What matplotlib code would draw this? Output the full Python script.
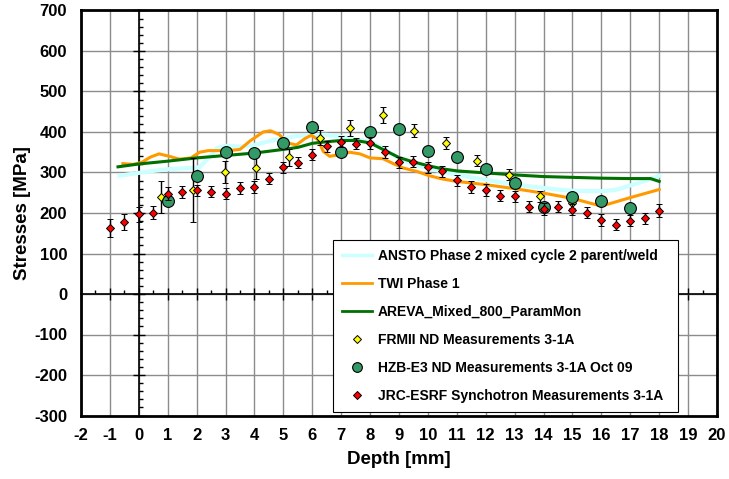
import matplotlib
matplotlib.use("Agg")
import matplotlib.pyplot as plt
from matplotlib.lines import Line2D
from matplotlib.ticker import MultipleLocator

plt.rcParams['font.family'] = ['Liberation Sans', 'DejaVu Sans']
plt.rcParams['font.weight'] = 'bold'
plt.rcParams['axes.unicode_minus'] = False

# --- model curves ---
ansto_x = [-0.67, 0, 0.5, 1, 1.5, 2.1, 2.4, 2.7, 3.0, 3.5, 4.0, 4.5, 5.0, 5.5, 6.0, 6.5,
           7.0, 7.5, 8.0, 8.5, 9.0, 9.5, 10, 10.5, 11, 11.5, 12, 12.5, 13, 13.5, 14,
           14.5, 15, 15.5, 16, 16.5, 17, 17.5, 18]
ansto_y = [292, 299, 304, 308, 310, 313, 335, 360, 366, 364, 368, 377, 385, 390, 393, 393,
           388, 381, 377, 358, 335, 320, 311, 302, 295, 288, 282, 276, 270, 266, 262,
           258, 255, 254, 254, 257, 268, 279, 292]

twi_x = [-0.55, -0.2, 0.1, 0.4, 0.7, 1.0, 1.4, 1.8, 2.1, 2.4, 2.8, 3.1, 3.5, 3.85, 4.3,
         4.55, 4.85, 5.15, 5.45, 5.75, 5.97, 6.2, 6.38, 6.6, 6.95, 7.3, 7.65, 8.0, 8.45,
         8.8, 9.15, 9.6, 10.05, 10.5, 11.0, 12.0, 13.0, 14.0, 15.0, 16.0, 17.0, 18.0]
twi_y = [322, 320, 325, 338, 346, 341, 333, 336, 350, 354, 354, 354, 357, 378, 400,
         403, 394, 373, 368, 384, 392, 381, 352, 340, 344, 350, 346, 336, 334,
         322, 311, 303, 292, 284, 278, 270, 260, 249, 236, 217, 238, 258]

areva_x = [-0.72, 0, 1, 2, 3, 4, 5, 5.5, 6, 6.5, 7, 7.5, 8, 8.5, 9, 9.5, 10, 10.5, 11,
           12, 13, 14, 15, 16, 17, 17.7, 18]
areva_y = [314, 321, 328, 336, 342, 348, 357, 362, 372, 376, 379, 379, 373, 355, 337, 326,
           317, 309, 304, 299, 294, 290, 288, 286, 285, 285, 278]

# --- measurements ---
frm_x = [0.78, 1.87, 2.98, 4.06, 5.18, 6.25, 7.32, 8.43, 9.53, 10.62, 11.7, 12.8, 13.87, 14.97]
frm_y = [240, 257, 301, 312, 338, 386, 409, 442, 403, 373, 329, 295, 241, 225]
frm_err = [39, 78, 27, 28, 21, 18, 20, 20, 16, 14, 14, 13, 14, 12]

hzb_x = [1, 2, 3, 4, 5, 6, 7, 8, 9, 10, 11, 12, 13, 14, 15, 16, 17]
hzb_y = [229, 291, 351, 348, 374, 412, 350, 401, 408, 352, 338, 309, 273, 216, 240, 229, 213]
hzb_err = [10] * 17

jrc_x = [-1, -0.5, 0, 0.5, 1, 1.5, 2, 2.5, 3, 3.5, 4, 4.5, 5, 5.5, 6, 6.5, 7, 7.5, 8,
         8.5, 9, 9.5, 10, 10.5, 11, 11.5, 12, 12.5, 13, 13.5, 14, 14.5, 15, 15.5, 16,
         16.5, 17, 17.5, 18]
jrc_y = [163, 178, 197, 201, 248, 252, 256, 253, 248, 262, 264, 285, 313, 324, 344, 365,
         376, 371, 373, 351, 325, 327, 313, 303, 281, 264, 257, 243, 241, 216, 210, 216,
         208, 201, 183, 171, 181, 187, 206]
jrc_err = [22, 20, 18, 17, 15, 14, 14, 14, 14, 14, 14, 14, 14, 14, 14, 14, 14, 14, 14,
           14, 14, 14, 14, 14, 14, 14, 14, 14, 14, 14, 14, 14, 14, 14, 14, 14, 14, 14, 15]

labels = ["ANSTO Phase 2 mixed cycle 2 parent/weld", "TWI Phase 1",
          "AREVA_Mixed_800_ParamMon", "FRMII ND Measurements 3-1A",
          "HZB-E3 ND Measurements 3-1A Oct 09", "JRC-ESRF Synchotron Measurements 3-1A"]

fig = plt.figure(figsize=(7.29, 4.79), dpi=100)
rect = [81 / 729, 1 - 415.5 / 479, 636 / 729, 405 / 479]

# back axes: grid and the axes crossing at zero
ax = fig.add_axes(rect)
ax.set_xlim(-2, 20)
ax.set_ylim(-300, 700)
ax.set_xticks(range(-2, 21))
ax.set_yticks(range(-300, 701, 100))
ax.xaxis.set_minor_locator(MultipleLocator(0.5))
ax.yaxis.set_minor_locator(MultipleLocator(20))
ax.grid(True, which='major', color='#8c8c8c', lw=1)
for s in ['top', 'right']:
    ax.spines[s].set_visible(False)
ax.spines['left'].set_position(('data', 0))
ax.spines['bottom'].set_position(('data', 0))
ax.spines['left'].set_linewidth(1.2)
ax.spines['bottom'].set_linewidth(1.2)
ax.tick_params(which='major', direction='inout', length=8, width=1, labelleft=False, labelbottom=False)
ax.tick_params(which='minor', direction='in', length=3, width=1)

# front axes: data, frame and labels
ax2 = fig.add_axes(rect, facecolor='none')
ax2.set_xlim(-2, 20)
ax2.set_ylim(-300, 700)
ax2.set_xticks(range(-2, 21))
ax2.set_yticks(range(-300, 701, 100))
for s in ax2.spines.values():
    s.set_linewidth(2)
ax2.tick_params(length=0, labelsize=12)
ax2.tick_params(axis='y', pad=10)
ax2.tick_params(axis='x', pad=9)
ax2.set_xlabel("Depth [mm]", fontsize=13.5, fontweight='bold', labelpad=6)
ax2.set_ylabel("Stresses [MPa]", fontsize=13.5, fontweight='bold', labelpad=2)

ax2.plot(ansto_x, ansto_y, color='#ccffff', lw=3, zorder=2)
ax2.plot(twi_x, twi_y, color='#ff9900', lw=2.2, zorder=2)
ax2.plot(areva_x, areva_y, color='#007000', lw=2.2, zorder=2)

ax2.errorbar(frm_x, frm_y, yerr=frm_err, fmt='D', ms=4.5, mfc='#ffff00', mec='black', mew=0.7,
             ecolor='black', elinewidth=1, capsize=2.5, zorder=3)
ax2.errorbar(hzb_x, hzb_y, yerr=hzb_err, fmt='o', ms=8.5, mfc='#339966', mec='black', mew=0.8,
             ecolor='black', elinewidth=1, capsize=2.5, zorder=4)
ax2.errorbar(jrc_x, jrc_y, yerr=jrc_err, fmt='D', ms=4.2, mfc='#ff0000', mec='black', mew=0.7,
             ecolor='black', elinewidth=1, capsize=2.5, zorder=5)

handles = [
    Line2D([], [], color='#ccffff', lw=2.5),
    Line2D([], [], color='#ff9900', lw=2),
    Line2D([], [], color='#007000', lw=2),
    Line2D([], [], ls='none', marker='D', ms=4, mfc='#ffff00', mec='black', mew=0.7),
    Line2D([], [], ls='none', marker='o', ms=7, mfc='#339966', mec='black', mew=0.8),
    Line2D([], [], ls='none', marker='D', ms=3.8, mfc='#ff0000', mec='black', mew=0.7),
]
leg = ax2.legend(handles, labels, loc='upper left',
                 bbox_to_anchor=(0.396, 0.016, 0.5425, 0.417), mode='expand',
                 borderaxespad=0, frameon=True, fancybox=False, framealpha=1,
                 edgecolor='black', fontsize=10, labelspacing=1.0, handlelength=2.2,
                 handletextpad=0.4, borderpad=0.65)
leg.get_frame().set_linewidth(0.8)
leg.set_zorder(10)

fig.savefig("out.png", dpi=100)
